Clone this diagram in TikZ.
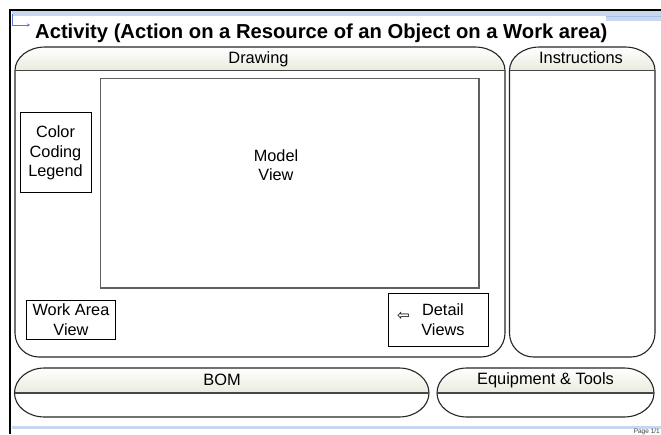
\documentclass[tikz,border=0pt]{standalone}
\usepackage{fontspec}
\setmainfont{Liberation Sans}
\newfontfamily\symfont{DejaVu Sans}
\usetikzlibrary{arrows.meta}

\definecolor{hdrfill}{RGB}{234,234,222}
\definecolor{bandblue}{RGB}{200,214,238}
\definecolor{banddark}{RGB}{168,190,228}
\definecolor{iconblue}{RGB}{80,125,200}
\definecolor{hdrgray}{RGB}{70,70,70}
\definecolor{boxgray}{RGB}{96,96,96}

\tikzset{
  panelline/.style={draw=black!85, line width=1.1pt},
  hdrline/.style={draw=hdrgray, line width=1.8pt},
  hdrshade/.style={top color=white, bottom color=hdrfill},
  hdrtext/.style={font=\fontsize{16.4}{19}\selectfont, inner sep=0pt, anchor=base},
  bodytext/.style={font=\fontsize{16.3}{19.5}\selectfont, align=center, inner sep=0pt},
  viewbox/.style={draw=black, line width=0.9pt},
}

% Panel with a rounded header tab: x0, x1, y top, y header line, y bottom
\newcommand\tabpanel[5]{%
  \shade[hdrshade] (#1,#4) .. controls (#1,{#4-13}) and ({#1+13.4},#3) .. ({#1+30},#3)
    -- ({#2-30},#3) .. controls ({#2-13.4},#3) and (#2,{#4-13}) .. (#2,#4) -- cycle;
  \path[panelline] (#1,#4) .. controls (#1,{#4-13}) and ({#1+13.4},#3) .. ({#1+30},#3)
    -- ({#2-30},#3) .. controls ({#2-13.4},#3) and (#2,{#4-13}) .. (#2,#4)
    -- (#2,{#5-24}) .. controls (#2,{#5-10.7}) and ({#2-10.7},#5) .. ({#2-24},#5)
    -- ({#1+24},#5) .. controls ({#1+10.7},#5) and (#1,{#5-10.7}) .. (#1,{#5-24}) -- cycle;
  \draw[hdrline] (#1,#4) -- (#2,#4);
}

% Pill-shaped panel: x0, x1, y top, y header line, y bottom
\newcommand\pillpanel[5]{%
  \shade[hdrshade] (#1,#4) .. controls (#1,{#4-13.8}) and ({#1+13.4},#3) .. ({#1+30},#3)
    -- ({#2-30},#3) .. controls ({#2-13.4},#3) and (#2,{#4-13.8}) .. (#2,#4) -- cycle;
  \path[panelline] (#1,#4) .. controls (#1,{#4-13.8}) and ({#1+13.4},#3) .. ({#1+30},#3)
    -- ({#2-30},#3) .. controls ({#2-13.4},#3) and (#2,{#4-13.8}) .. (#2,#4)
    .. controls (#2,{#4+13.25}) and ({#2-13.4},#5) .. ({#2-30},#5)
    -- ({#1+30},#5) .. controls ({#1+13.4},#5) and (#1,{#4+13.25}) .. (#1,#4) -- cycle;
  \draw[hdrline] (#1,#4) -- (#2,#4);
}

\begin{document}
\begin{tikzpicture}[x=1pt,y=-1pt]
\useasboundingbox (0,0) rectangle (661,434);
\fill[white] (0,0) rectangle (661,434);

% page frame and ribbon bands
\fill[bandblue] (12,11) rectangle (661,15.5);
\fill[bandblue] (606,15.5) rectangle (661,20.5);
\draw[banddark, line width=0.8pt] (606,16) -- (661,16);
\fill[bandblue] (12,425.5) rectangle (661,428.5);
\draw[black, line width=1.7pt] (9,9.8) -- (661,9.8);
\draw[black, line width=2.2pt] (10.2,9) -- (10.2,434);

% small connector glyph beside the title
\coordinate (iconA) at (12.5,14);
\coordinate (iconB) at (12.5,25);
\coordinate (iconC) at (30,25);
\draw[iconblue, line width=0.8pt, -{Stealth[length=3pt,width=3pt]}] (iconA) -- (iconB) -- (iconC);

% title
\node[anchor=base west, inner sep=0pt, font=\fontsize{20.2}{24}\selectfont\bfseries]
  (title) at (35,38.5) {Activity (Action on a Resource of an Object on a Work area)};

% main panels
\tabpanel{15}{505}{47}{70.5}{357}
\tabpanel{509.5}{655}{47}{70.5}{357}
\pillpanel{14.5}{429}{368}{393}{417}
\pillpanel{437}{654}{368}{393}{417}

\node[hdrtext] (drawing) at (258.5,63.5) {Drawing};
\node[hdrtext] (instr) at (581,63.5) {Instructions};
\node[hdrtext] (bom) at (222,385) {BOM};
\node[hdrtext] (equip) at (545.5,384) {Equipment \& Tools};

% views inside the drawing panel
\draw[draw=boxgray, line width=1.2pt] (100.5,78.5) rectangle (479,288);
\node[bodytext] (model) at (276,165) {Model\\View};

\draw[viewbox] (20,112) rectangle (91,192);
\node[bodytext] (legend) at (55.5,153) {Color\\Coding\\Legend};

\draw[viewbox] (26.5,300) rectangle (115.5,339);
\node[bodytext] (workarea) at (71,319.5) {Work Area\\View};

\draw[viewbox] (388,293) rectangle (488,346);
\node[inner sep=0pt, font=\symfont\fontsize{15}{17}\selectfont] (arrow) at (403.5,316.5) {⇦};
\node[bodytext] (detail) at (443,319.5) {Detail\\Views};

% footer
\node[anchor=base east, inner sep=0pt, text=black!75, font=\fontsize{6.5}{7}\selectfont]
  (pageno) at (660,433) {Page 1/1};
\end{tikzpicture}
\end{document}
